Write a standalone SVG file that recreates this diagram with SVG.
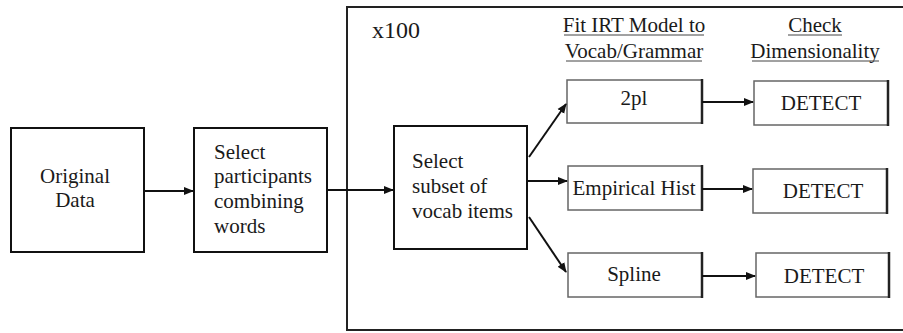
<svg xmlns="http://www.w3.org/2000/svg" width="903" height="333" viewBox="0 0 903 333">
  <defs>
    <style>
      .t { font-family: "Liberation Serif", "Times New Roman", serif; font-size: 21px; fill: #1a1a1a; }
      .big { font-size: 24px; }
      .mid { text-anchor: middle; }
      .box { fill: #ffffff; stroke: #111; stroke-width: 2; }
      .sbox { fill: #ffffff; stroke: #666; stroke-width: 1.5; }
      .edge { stroke: #222; stroke-width: 2.5; }
      .frame { fill: none; stroke: #222; stroke-width: 2; }
      .hd { stroke: #444; stroke-width: 1; }
      .conn { stroke: #111; stroke-width: 2; fill: none; marker-end: url(#arrow); }
    </style>
    <marker id="arrow" viewBox="0 0 10 10" refX="9" refY="5" markerWidth="5" markerHeight="5" markerUnits="strokeWidth" orient="auto">
      <path d="M0,1 L10,5 L0,9 z" fill="#111"/>
    </marker>
  </defs>

  <rect fill="#ffffff" x="0" y="0" width="903" height="333"/>

  <!-- repetition frame -->
  <g id="loop">
    <rect class="frame" x="347" y="7" width="570" height="323"/>
    <text class="t big" x="372" y="38">x100</text>
  </g>

  <!-- column headings -->
  <g id="heading-fit">
    <text class="t mid" x="634" y="32">Fit IRT Model to</text>
    <line class="hd" x1="564" y1="35" x2="704" y2="35"/>
    <text class="t mid" x="634" y="58">Vocab/Grammar</text>
    <line class="hd" x1="566" y1="61" x2="702" y2="61"/>
  </g>
  <g id="heading-check">
    <text class="t mid" x="815" y="32">Check</text>
    <line class="hd" x1="788" y1="35" x2="842" y2="35"/>
    <text class="t mid" x="815" y="58">Dimensionality</text>
    <line class="hd" x1="752" y1="61" x2="879" y2="61"/>
  </g>

  <g id="original-data">
    <rect class="box" x="11" y="128" width="133" height="124"/>
    <text class="t mid" x="75" y="183">Original</text>
    <text class="t mid" x="75" y="207">Data</text>
  </g>

  <g id="select-participants">
    <rect class="box" x="194" y="128" width="133" height="124"/>
    <text class="t" x="214" y="159">Select</text>
    <text class="t" x="214" y="183">participants</text>
    <text class="t" x="214" y="208">combining</text>
    <text class="t" x="214" y="233">words</text>
  </g>

  <g id="select-subset">
    <rect class="box" x="394" y="126" width="133" height="123"/>
    <text class="t" x="412" y="168">Select</text>
    <text class="t" x="412" y="193">subset of</text>
    <text class="t" x="412" y="218">vocab items</text>
  </g>

  <g id="model-2pl">
    <rect class="sbox" x="567" y="80" width="135" height="43"/>
    <line class="edge" x1="702" y1="79" x2="702" y2="124"/>
    <text class="t mid" x="634" y="105">2pl</text>
  </g>
  <g id="model-empirical">
    <rect class="sbox" x="568" y="166" width="134" height="44"/>
    <line class="edge" x1="702" y1="165" x2="702" y2="211"/>
    <text class="t mid" x="634" y="195">Empirical Hist</text>
  </g>
  <g id="model-spline">
    <rect class="sbox" x="568" y="253" width="134" height="44"/>
    <line class="edge" x1="702" y1="252" x2="702" y2="298"/>
    <text class="t mid" x="634" y="281">Spline</text>
  </g>

  <g id="detect-1">
    <rect class="sbox" x="754" y="81" width="134" height="44"/>
    <line class="edge" x1="888" y1="80" x2="888" y2="126"/>
    <text class="t mid" x="821" y="110">DETECT</text>
  </g>
  <g id="detect-2">
    <rect class="sbox" x="753" y="169" width="134" height="44"/>
    <line class="edge" x1="887" y1="168" x2="887" y2="214"/>
    <text class="t mid" x="823" y="198">DETECT</text>
  </g>
  <g id="detect-3">
    <rect class="sbox" x="756" y="253" width="133" height="44"/>
    <line class="edge" x1="889" y1="252" x2="889" y2="298"/>
    <text class="t mid" x="824" y="283">DETECT</text>
  </g>

  <g id="connectors">
    <line class="conn" x1="144" y1="191" x2="193" y2="191"/>
    <line class="conn" x1="327" y1="190" x2="393" y2="190"/>
    <line class="conn" x1="529" y1="157" x2="566" y2="104"/>
    <line class="conn" x1="527" y1="181" x2="567" y2="181"/>
    <line class="conn" x1="529" y1="217" x2="566" y2="272"/>
    <line class="conn" x1="702" y1="102" x2="753" y2="102"/>
    <line class="conn" x1="702" y1="189" x2="752" y2="189"/>
    <line class="conn" x1="702" y1="276" x2="755" y2="276"/>
  </g>
</svg>
